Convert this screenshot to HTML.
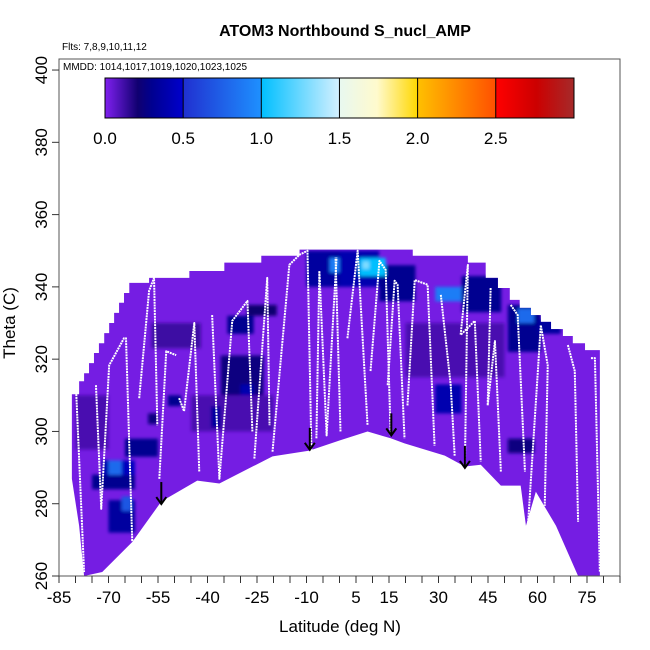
<!DOCTYPE html>
<html><head><meta charset="utf-8"><style>
html,body{margin:0;padding:0;background:#fff;}
svg{display:block;font-family:"Liberation Sans",Arial,sans-serif;}
</style></head><body>
<svg id="chart" width="650" height="650" viewBox="0 0 650 650" xmlns="http://www.w3.org/2000/svg">
<defs>
<clipPath id="envClip"><path id="envClipPath" d=""/></clipPath>
<filter id="soft" x="-5%" y="-5%" width="110%" height="110%"><feGaussianBlur stdDeviation="1.5"/></filter>
<linearGradient id="cbGrad" x1="0" x2="1" y1="0" y2="0">
<stop offset="0" stop-color="#8020f0"/><stop offset="0.07" stop-color="#100070"/><stop offset="0.1" stop-color="#000090"/>
<stop offset="0.1666" stop-color="#0000cd"/><stop offset="0.1667" stop-color="#2030d0"/><stop offset="0.333" stop-color="#1e90ff"/>
<stop offset="0.3334" stop-color="#00bfff"/><stop offset="0.4999" stop-color="#d4f0ff"/><stop offset="0.5" stop-color="#e8f8f0"/>
<stop offset="0.58" stop-color="#fffacd"/><stop offset="0.6666" stop-color="#ffd700"/><stop offset="0.6667" stop-color="#ffc000"/>
<stop offset="0.8333" stop-color="#ff5000"/><stop offset="0.8334" stop-color="#ff0000"/><stop offset="0.92" stop-color="#cc0000"/>
<stop offset="1" stop-color="#a52a2a"/></linearGradient>
</defs>
<text x="345" y="36" text-anchor="middle" font-size="16" font-weight="bold">ATOM3 Northbound S_nucl_AMP</text>
<text x="62" y="50" font-size="10">Flts: 7,8,9,10,11,12</text>
<g id="plot"></g>
<rect x="59" y="59" width="561" height="517" fill="none" stroke="#555" stroke-width="1"/>
<text x="63" y="70" font-size="10">MMDD: 1014,1017,1019,1020,1023,1025</text>
<g>
<rect x="105" y="78" width="469" height="40" fill="url(#cbGrad)" stroke="#000" stroke-width="1"/>
<g id="cbTicks"></g>
</g>
<g id="axes"></g>
<text x="340" y="632" text-anchor="middle" font-size="17">Latitude (deg N)</text>
<text transform="translate(15,323) rotate(-90)" text-anchor="middle" font-size="17">Theta (C)</text>
</svg>
<script>
const topLat=[-81.1,-78.9,-77.4,-75.9,-74.4,-72.9,-71.3,-69.8,-68.3,-66.8,-65.3,-63.7,-57.7,-45.5,-34.9,-23.7,-12.1,22.2,38.9,44.3,48,51.6,54.6,58,61,64.1,67.7,70.7,74.4,77.7,78.9];
const topTheta=[310.3,313.9,316.1,318.9,321.7,324.4,327.2,330,332.8,335.6,338.3,341.1,342.5,344.4,346.7,348.6,350.3,348.6,346.7,342.5,339.7,336.4,334.2,332.2,330.3,328.3,326.4,324.4,322.5,322.5,317.5];
const botLat=[78.9,72.3,65.6,59.5,56.5,54.9,48.9,42.8,38.0,31.9,19.7,15.5,8.5,0.0,-9.1,-20.3,-36.4,-43.1,-54.0,-62.8,-71.9,-77.4,-78.9,-81.1];
const botTheta=[260,260,273.9,283.3,273.9,285,285,290.8,290.3,293.3,296.7,298.1,300,297.5,294.7,293.1,285.6,286.4,280.6,269.4,261.1,260,273.9,286.9];
const cellLat0=[-80,-45,20,-57,-75,-75,-72,-70,-66,-70,-66,-65,-58,-52,-39,-36,-30,-34,-28,-10,-3,0,12,6,7,29,37,51,54,60,29,51];
const cellLat1=[-70,-20,50,-42,-70,-62,-70,-66,-62,-62,-63,-55,-55,-48,-36,-23,-26,-26,-19,0,0,12,23,14,9,37,49,61,59,67,37,59];
const cellTh0=[295,300,315,323,285,284,288,288,288,272,278,293,302,307,301,310,310,327,332,340,344,340,336,343,345,336,333,322,330,327,305,294];
const cellTh1=[310,310,330,330,288,288,292,292,292,281,282,298,305,310,307,321,313,332,335,350,348,350,346,348,347,340,343,335,334,331,313,298];
const cellVal=[0.1,0.1,0.1,0.12,0.3,0.3,0.4,0.8,0.45,0.35,0.7,0.3,0.25,0.3,0.35,0.25,0.4,0.3,0.2,0.35,0.9,0.4,0.3,1.0,1.3,0.9,0.3,0.3,0.8,0.35,0.4,0.25];
const profiles=[
[[-79.8,311.1],[-77.4,261.1]],
[[-73.8,312.8],[-72.2,278.6],[-69.8,318.3],[-65.3,325.8],[-64.7,325.8],[-62.8,269.4]],
[[-60.7,309.2],[-57.7,338.9],[-56.2,342.5],[-55.2,301.7]],
[[-54.6,286.9],[-52.5,322.2],[-49.5,321.1]],
[[-48.6,309.2],[-47.1,305.6],[-44.0,330],[-42.5,288.9]],
[[-38.6,332.2],[-36.4,286.9],[-32.5,330.6],[-27.9,336.1],[-26.4,300]],
[[-25.8,292.5],[-21.9,342.5],[-21.2,301.7]],
[[-20.3,294.4],[-15.2,346.1],[-12.1,348.9],[-9.7,350],[-8.5,294.4]],
[[-7.0,298.1],[-6.1,344.4],[-3.9,298.9],[-0.9,348.1]],
[[0.3,300],[-1.2,348.1]],
[[2.4,325.8],[5.5,350],[8.5,301.7]],
[[9.4,316.7],[12.1,347.2],[14.0,344.7],[15.5,298.9]],
[[14.6,312.8],[16.7,341.7],[17.6,340.6],[19.7,298.1]],
[[20.6,307.2],[22.8,341.9],[26.7,340.6],[28.8,296.1]],
[[30.7,337.8],[33.7,312.8],[34.9,293.3]],
[[38.0,290.6],[38.9,346.1],[36.7,326.7],[41.0,330.6],[42.8,291.7]],
[[45.8,339.7],[44.9,307.2],[47.1,325],[48.9,288.9]],
[[51.9,335],[54.0,332.2],[56.2,288.9]],
[[57.1,273.9],[61.0,329.4],[63.1,318.3],[62.2,279.4]],
[[69.2,323.9],[71.3,316.7],[72.3,275]],
[[76.2,320.3],[77.4,320.3],[78.9,261.1]]
];
const arrowLat=[-54,-9,15.7,38];
const arrowTheta=[286,301,305,296];
const yTicks=[260,280,300,320,340,360,380,400];
const xLabels=[-85,-70,-55,-40,-25,-10,5,15,30,45,60,75];
const cbTicks=[0,0.5,1.0,1.5,2.0,2.5];

const X=lat=>59+(lat+85)*3.3;
const Y=th=>576-(th-260)*3.614;
const CB=v=>105+v*156.3;
const NS="http://www.w3.org/2000/svg";
function mk(tag,attrs,parent){const e=document.createElementNS(NS,tag);for(const k in attrs)e.setAttribute(k,attrs[k]);parent.appendChild(e);return e;}
const stops=[[0,[128,32,240]],[0.2,[16,0,112]],[0.3,[0,0,144]],[0.5,[0,0,205]],[0.5001,[32,48,208]],[0.999,[30,144,255]],[1.0,[0,191,255]],[1.499,[212,240,255]],[1.5,[232,248,240]],[1.75,[255,250,205]],[2.0,[255,215,0]],[2.5,[255,80,0]],[2.5001,[255,0,0]],[2.75,[204,0,0]],[3,[165,42,42]]];
function cmap(v){for(let i=1;i<stops.length;i++){if(v<=stops[i][0]){const a=stops[i-1],b=stops[i],t=(v-a[0])/(b[0]-a[0]);const c=a[1].map((x,j)=>Math.round(x+(b[1][j]-x)*t));return `rgb(${c[0]},${c[1]},${c[2]})`;}}return "rgb(165,42,42)";}

let d=`M${X(topLat[0])},${Y(botTheta[botTheta.length-1])} L${X(topLat[0])},${Y(topTheta[0])}`;
for(let i=1;i<topLat.length;i++){d+=` L${X(topLat[i])},${Y(topTheta[i-1])} L${X(topLat[i])},${Y(topTheta[i])}`;}
for(let i=0;i<botLat.length;i++){d+=` L${X(botLat[i])},${Y(botTheta[i])}`;}
d+=" Z";
document.getElementById('envClipPath').setAttribute('d',d);
const plot=document.getElementById('plot');
const base=mk('path',{d:d,fill:cmap(0.02)},plot);


const clipG=mk('g',{'clip-path':'url(#envClip)'},plot);
const cells=mk('g',{filter:'url(#soft)'},clipG);


for(let i=0;i<cellVal.length;i++){
 const r=mk('rect',{x:X(cellLat0[i]),y:Y(cellTh1[i]),width:X(cellLat1[i])-X(cellLat0[i]),height:Y(cellTh0[i])-Y(cellTh1[i]),fill:cmap(cellVal[i])},cells);
 
 
}
for(const p of profiles){
 const pl=mk('polyline',{points:p.map(q=>X(q[0])+','+Y(q[1])).join(' '),fill:'none',stroke:'#fff','stroke-width':2,'stroke-dasharray':'2 0.8','stroke-linejoin':'round'},plot);
 
 
}
for(let i=0;i<arrowLat.length;i++){
 const x=X(arrowLat[i]),y0=Y(arrowTheta[i]),y1=y0+22;
 const g=mk('g',{stroke:'#000','stroke-width':2,fill:'none'},plot);
 
 
 mk('line',{x1:x,y1:y0,x2:x,y2:y1},g);
 mk('polyline',{points:`${x-5},${y1-7} ${x},${y1} ${x+5},${y1-7}`},g);
}
const axes=document.getElementById('axes');
for(const t of yTicks){
 const y=Y(t);
 const tk=mk('line',{x1:52,y1:y,x2:59,y2:y,stroke:'#333'},axes);
 
 
 const lb=mk('text',{transform:`translate(47,${y}) rotate(-90)`,'text-anchor':'middle','font-size':17},axes);
 lb.textContent=t;
 
 
}
for(let v=-85;v<=85;v+=5){
 const tk=mk('line',{x1:X(v),y1:576,x2:X(v),y2:583,stroke:'#333'},axes);
 
 
}
for(const v of xLabels){
 const lb=mk('text',{x:X(v),y:603,'text-anchor':'middle','font-size':17},axes);
 lb.textContent=v;
 
 
}
const cbt=document.getElementById('cbTicks');
for(const v of cbTicks){
 if(v>0){const l=mk('line',{x1:CB(v),y1:78,x2:CB(v),y2:118,stroke:'#000'},cbt);
 
 }
 const lb=mk('text',{x:CB(v),y:144,'text-anchor':'middle','font-size':17},cbt);
 lb.textContent=v.toFixed(1);
 
 
}
</script>
</body></html>
